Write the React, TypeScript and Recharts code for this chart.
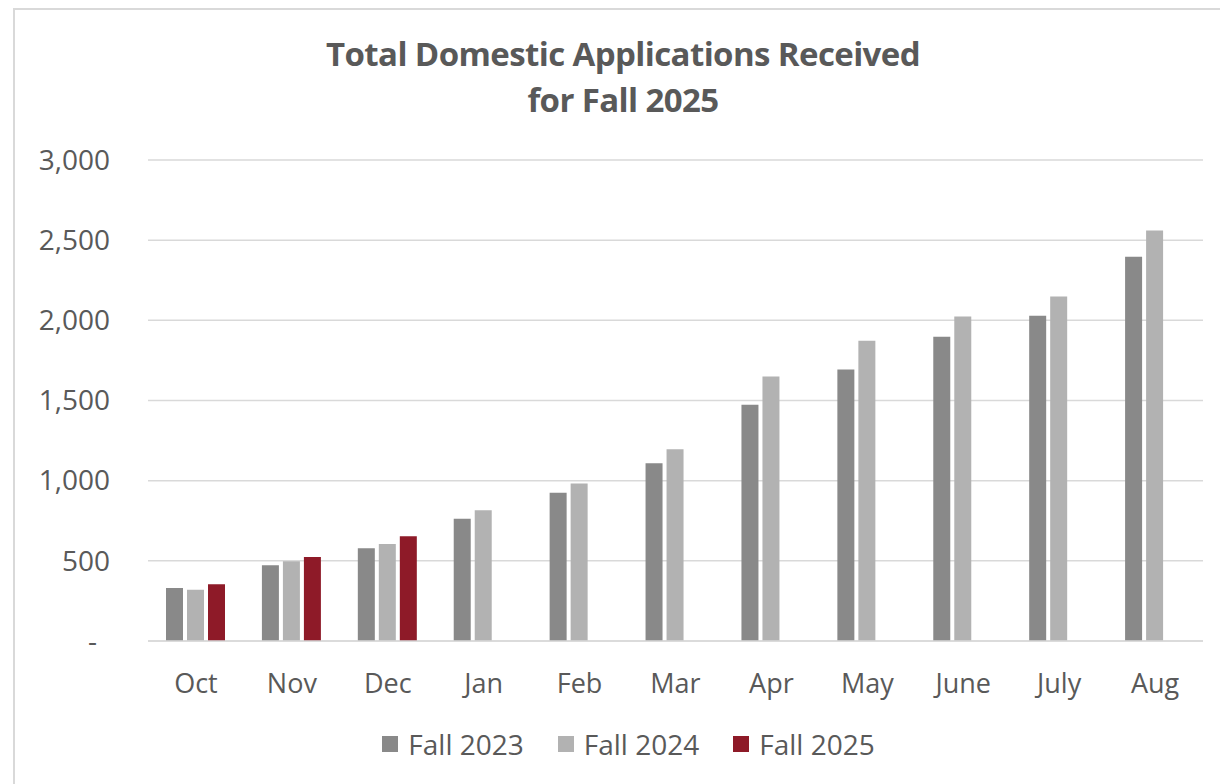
import { BarChart, Bar, XAxis, YAxis, CartesianGrid } from 'recharts';

const months = ['Oct', 'Nov', 'Dec', 'Jan', 'Feb', 'Mar', 'Apr', 'May', 'June', 'July', 'Aug'];
const fall2023 = [330, 472, 578, 763, 925, 1108, 1473, 1693, 1897, 2028, 2396];
const fall2024 = [320, 497, 605, 815, 983, 1196, 1649, 1872, 2024, 2149, 2560];
const fall2025 = [354, 524, 653, null, null, null, null, null, null, null, null];
const yTicks = [0, 500, 1000, 1500, 2000, 2500, 3000];

const seriesNames = ['Fall 2023', 'Fall 2024', 'Fall 2025'];
const seriesKeys = ['f23', 'f24', 'f25'];
const seriesColors = ['#898989', '#B2B2B2', '#8E1A28'];

const data = months.map((m, i) => ({
  month: m,
  f23: fall2023[i],
  f24: fall2024[i],
  f25: fall2025[i],
}));

const FONT = '"Open Sans", sans-serif';
const TEXT = '#595959';

function YTick({ x, y, payload }: any) {
  const v = payload.value as number;
  const label = v === 0 ? '-' : v.toLocaleString('en-US');
  // accounting style zero sits a bit left of the numbers
  return (
    <text
      x={v === 0 ? x - 13 : x}
      y={y}
      dy="0.35em"
      textAnchor="end"
      fill={TEXT}
      fontSize={28}
      fontFamily={FONT}
    >
      {label}
    </text>
  );
}

export default function App() {
  return (
    <div style={{ position: 'absolute', left: 0, top: 0, width: 1220, height: 784, background: '#fff', overflow: 'hidden' }}>
      {/* chart frame */}
      <div
        style={{
          position: 'absolute',
          left: 13,
          top: 8,
          width: 1230,
          height: 800,
          border: '2px solid #D9D9D9',
          boxSizing: 'border-box',
        }}
      />
      <div
        style={{
          position: 'absolute',
          left: 14,
          top: 31,
          width: 1218,
          textAlign: 'center',
          fontFamily: FONT,
          fontWeight: 700,
          fontSize: 33,
          lineHeight: '46px',
          color: TEXT,
          letterSpacing: -0.6,
        }}
      >
        Total Domestic Applications Received
        <br />
        for Fall 2025
      </div>

      <div style={{ position: 'absolute', left: 0, top: 0 }}>
        <BarChart
          width={1220}
          height={784}
          data={data}
          margin={{ top: 160, right: 17, bottom: 83, left: 0 }}
          barSize={17}
          barGap={4}
        >
          <CartesianGrid vertical={false} stroke="#D9D9D9" strokeWidth={1.5} />
          <XAxis
            dataKey="month"
            axisLine={{ stroke: '#D9D9D9', strokeWidth: 1.5 }}
            tickLine={false}
            tickSize={0}
            tickMargin={33}
            height={60}
            tick={{ fill: TEXT, fontSize: 27, fontFamily: FONT }}
            interval={0}
          />
          <YAxis
            domain={[0, 3000]}
            ticks={yTicks}
            axisLine={false}
            tickLine={false}
            tickSize={0}
            tickMargin={38}
            width={148}
            tick={<YTick />}
          />
          {seriesKeys.map((k, i) => (
            <Bar key={k} dataKey={k} name={seriesNames[i]} fill={seriesColors[i]} isAnimationActive={false} />
          ))}
        </BarChart>
      </div>

      {/* legend */}
      <div
        style={{
          position: 'absolute',
          left: 0,
          top: 725,
          width: 1257,
          display: 'flex',
          justifyContent: 'center',
          gap: 34,
          fontFamily: FONT,
          fontSize: 28,
          color: TEXT,
        }}
      >
        {seriesNames.map((n, i) => (
          <div key={n} style={{ display: 'flex', alignItems: 'center', gap: 10 }}>
            <div style={{ width: 16, height: 16, background: seriesColors[i] }} />
            <span>{n}</span>
          </div>
        ))}
      </div>
    </div>
  );
}
